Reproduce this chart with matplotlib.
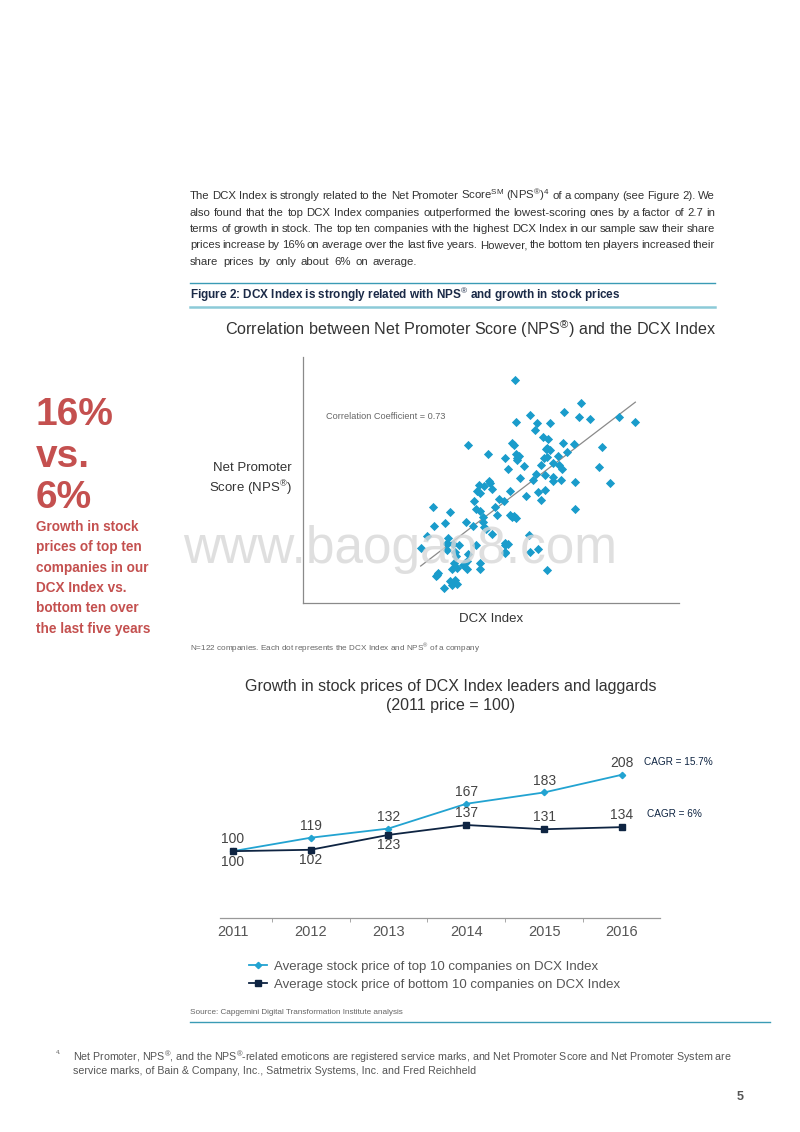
import numpy as np
import matplotlib
matplotlib.use("Agg")
import matplotlib.pyplot as plt
from matplotlib.lines import Line2D

plt.rcParams['font.family'] = ['Liberation Sans', 'DejaVu Sans']
plt.rcParams['mathtext.fontset'] = 'custom'
plt.rcParams['mathtext.rm'] = 'Liberation Sans'
plt.rcParams['mathtext.it'] = 'Liberation Sans:italic'
plt.rcParams['mathtext.bf'] = 'Liberation Sans:bold'

# --- scatter: DCX Index vs NPS (arbitrary units) ---
dcx = [64.5, 84.2, 79.2, 68.9, 83.8, 87.0, 95.6, 100.6, 64.8, 71.2,
       74.9, 70.6, 72.9, 74.4, 63.6, 64.1, 78.8, 82.1, 50.3, 90.5,
       73.8, 74.9, 56.4, 80.1, 64.9, 65.8, 61.6, 65.1, 74.0, 73.3,
       77.4, 76.0, 72.4, 67.3, 77.7, 78.6, 89.8, 62.3, 70.8, 73.4,
       76.0, 65.9, 69.8, 75.8, 78.2, 82.5, 93.0, 56.8, 57.1, 53.7,
       55.3, 57.7, 53.2, 54.0, 63.0, 71.5, 73.4, 67.8, 72.4, 59.7,
       61.2, 52.3, 58.6, 52.7, 54.1, 39.9, 45.0, 82.5, 54.9, 59.0,
       63.0, 64.1, 64.8, 49.7, 43.5, 40.1, 51.9, 55.8, 54.8, 38.2,
       57.6, 68.8, 44.5, 44.0, 46.0, 47.7, 52.9, 61.4, 62.5, 36.2,
       44.1, 46.6, 61.5, 61.4, 69.0, 71.3, 50.5, 46.7, 50.0, 48.9,
       54.1, 45.5, 47.2, 50.2, 54.1, 74.1, 41.5, 40.7, 41.1, 44.9,
       46.6, 47.2, 45.5, 43.2, 49.5, 46.2, 44.1, 63.7, 55.1, 74.0,
       65.2, 61.6]
nps = [67.0, 60.2, 57.6, 56.6, 56.0, 55.2, 56.0, 54.5, 54.4, 54.2,
       54.0, 52.0, 49.8, 49.2, 48.2, 47.4, 48.2, 47.7, 47.4, 47.0,
       46.4, 46.0, 44.8, 45.5, 44.7, 44.2, 43.7, 43.5, 43.8, 43.5,
       44.3, 42.0, 41.6, 41.3, 41.4, 40.3, 40.9, 40.3, 38.7, 38.5,
       38.0, 37.5, 37.0, 36.8, 36.9, 36.3, 36.2, 36.8, 36.0, 35.5,
       35.1, 34.2, 33.7, 33.0, 33.6, 33.3, 34.0, 32.3, 31.0, 31.2,
       30.7, 30.7, 28.8, 28.3, 27.8, 29.0, 27.5, 28.3, 26.0, 26.6,
       26.5, 26.2, 25.7, 24.3, 24.0, 23.3, 23.1, 22.2, 24.4, 20.3,
       20.7, 20.6, 19.5, 17.8, 17.7, 17.3, 17.3, 17.3, 17.8, 16.4,
       15.8, 15.2, 15.4, 14.9, 15.4, 16.1, 14.8, 14.0, 12.5, 11.5,
       12.0, 10.3, 10.5, 10.2, 10.3, 9.8, 9.0, 8.0, 8.4, 6.5,
       6.8, 5.6, 5.3, 4.6, 12.0, 12.0, 18.0, 26.0, 23.0, 46.5,
       43.0, 18.0]

# --- line chart: stock price growth (2011 = 100) ---
years = ['2011', '2012', '2013', '2014', '2015', '2016']
top10 = [100, 119, 132, 167, 183, 208]
bottom10 = [100, 102, 123, 137, 131, 134]
bottom_label_below = [True, True, True, False, False, False]
cagr_top = 'CAGR = 15.7%'
cagr_bottom = 'CAGR = 6%'

BLUE = '#1A9CCB'
NAVY = '#0E2442'
RED = '#C4504F'
TEAL = '#3A9BB5'

W, H = 800, 1132
fig = plt.figure(figsize=(W / 100, H / 100), dpi=100)
renderer = fig.canvas.get_renderer()


def fx(x):
    return x / W


def fy(y):
    return 1 - y / H


def justified(y, line, x0=190, x1=715, last=False, **kw):
    # spread the words of one line so it fills x0..x1 (plain spacing on the last line)
    words = line.split(' ')
    objs = [fig.text(fx(x0), fy(y), w, va='baseline', **kw) for w in words]
    widths = [o.get_window_extent(renderer).width for o in objs]
    space = objs[0].get_fontsize() * 0.42 * 100 / 72
    gap = space if last else (x1 - x0 - sum(widths)) / (len(words) - 1)
    x = x0
    for o, w in zip(objs, widths):
        o.set_x(fx(x))
        x += w + gap


# intro paragraph
para = [
    r'The DCX Index is strongly related to the Net Promoter Score$^{\mathrm{SM}}$ (NPS$^{\circledR}$)$^{4}$ of a company (see Figure 2). We',
    'also found that the top DCX Index companies outperformed the lowest-scoring ones by a factor of 2.7 in',
    'terms of growth in stock. The top ten companies with the highest DCX Index in our sample saw their share',
    'prices increase by 16% on average over the last five years. However, the bottom ten players increased their',
    'share prices by only about 6% on average.',
]
for i, line in enumerate(para):
    justified(199 + i * 16.5, line, last=(i == len(para) - 1), fontsize=8.2, color='#333333')

fig.add_artist(Line2D([fx(190), fx(715)], [fy(282.5), fy(282.5)], color=TEAL, lw=1.0))
fig.text(fx(190), fy(295), r'Figure 2: DCX Index is strongly related with NPS$^{\circledR}$ and growth in stock prices',
         fontsize=8.5, fontweight='bold', color='#1B2A47', va='center')
fig.add_artist(Line2D([fx(190), fx(715)], [fy(307.5), fy(307.5)], color='#8CCAD8', lw=1.8))

# left call-out
fig.text(fx(36), fy(415), '16%', fontsize=28, fontweight='bold', color=RED, va='center')
fig.text(fx(36), fy(457), 'vs.', fontsize=28, fontweight='bold', color=RED, va='center')
fig.text(fx(36), fy(498), '6%', fontsize=28, fontweight='bold', color=RED, va='center')
callout = ['Growth in stock', 'prices of top ten', 'companies in our',
           'DCX Index vs.', 'bottom ten over', 'the last five years']
for i, s in enumerate(callout):
    fig.text(fx(36), fy(527 + i * 20.3), s, fontsize=9.8, fontweight='bold', color=RED, va='center')

# watermark
fig.text(fx(400), fy(550), 'www.baogao8.com', fontsize=37, color='#d8d8d8', ha='center', va='center',
         alpha=0.8, zorder=10)

# scatter chart
fig.text(fx(471), fy(329), r'Correlation between Net Promoter Score (NPS$^{\circledR}$) and the DCX Index',
         fontsize=11.6, color='#333333', ha='center', va='center')
ax1 = fig.add_axes([fx(303), fy(603), (679 - 303) / W, (603 - 357) / H])
ax1.scatter(dcx, nps, marker='D', s=22, color=BLUE, linewidths=0, zorder=3)
k, b = np.polyfit(dcx, nps, 1)
xs = np.array([min(dcx), max(dcx)])
ax1.plot(xs, k * xs + b, color='#8a8a8a', lw=0.9, zorder=2)
ax1.set_xlim(0.9, 113.7)
ax1.set_ylim(0, 74)
ax1.set_xticks([])
ax1.set_yticks([])
for side in ['top', 'right']:
    ax1.spines[side].set_visible(False)
for side in ['left', 'bottom']:
    ax1.spines[side].set_color('#8a8a8a')
    ax1.spines[side].set_linewidth(0.9)
ax1.text(0.06, 0.76, 'Correlation Coefficient = 0.73', transform=ax1.transAxes, fontsize=6.6,
         color='#666666', va='center')
fig.text(fx(292), fy(480), 'Net Promoter\n' + r'Score (NPS$^{\circledR}$)', fontsize=9.5, color='#333333',
         ha='right', va='center', multialignment='right', linespacing=1.3)
fig.text(fx(491), fy(619), 'DCX Index', fontsize=9.5, color='#333333', ha='center', va='center')
fig.text(fx(190), fy(648), r'N=122 companies. Each dot represents the DCX Index and NPS$^{\circledR}$ of a company',
         fontsize=5.9, color='#666666', va='center')

# line chart
fig.text(fx(451), fy(696), 'Growth in stock prices of DCX Index leaders and laggards\n(2011 price = 100)',
         fontsize=11.5, color='#333333', ha='center', va='center', linespacing=1.3)
ax2 = fig.add_axes([fx(220), fy(917.7), 440 / W, 167.7 / H])
xpos = np.arange(len(years))
ax2.plot(xpos, top10, color='#22A3D1', lw=1.3, marker='D', ms=3.2, zorder=3)
ax2.plot(xpos, bottom10, color=NAVY, lw=1.3, marker='s', ms=5, zorder=3)
for x, v in zip(xpos, top10):
    ax2.annotate(str(v), (x, v), xytext=(0, 8.6), textcoords='offset points', ha='center', va='center',
                 fontsize=10, color='#444444')
for x, v, below in zip(xpos, bottom10, bottom_label_below):
    ax2.annotate(str(v), (x, v), xytext=(0, -7.5 if below else 8.8), textcoords='offset points',
                 ha='center', va='center', fontsize=10, color='#444444')
ax2.annotate(cagr_top, (xpos[-1], top10[-1]), xytext=(16, 9.4), textcoords='offset points',
             ha='left', va='center', fontsize=7.2, color=NAVY)
ax2.annotate(cagr_bottom, (xpos[-1], bottom10[-1]), xytext=(18, 9.4), textcoords='offset points',
             ha='left', va='center', fontsize=7.2, color=NAVY)
ax2.set_xlim(-0.165, 5.49)
ax2.set_ylim(6, 243)
ax2.set_xticks(xpos)
ax2.set_xticklabels(years, fontsize=10.5, color='#555555')
ax2.set_xticks(xpos[:-1] + 0.5, minor=True)
ax2.tick_params(axis='x', which='major', length=0, pad=5.5)
ax2.tick_params(axis='x', which='minor', length=3, color='#999999', direction='out')
ax2.set_yticks([])
for side in ['top', 'right', 'left']:
    ax2.spines[side].set_visible(False)
ax2.spines['bottom'].set_color('#999999')
ax2.spines['bottom'].set_linewidth(0.9)

handles = [Line2D([], [], color='#22A3D1', lw=1.3, marker='D', ms=3.2),
           Line2D([], [], color=NAVY, lw=1.3, marker='s', ms=5)]
fig.legend(handles, ['Average stock price of top 10 companies on DCX Index',
                     'Average stock price of bottom 10 companies on DCX Index'],
           loc='upper left', bbox_to_anchor=(fx(237), fy(949)), frameon=False, fontsize=9.5,
           handlelength=1.4, handletextpad=0.5, labelspacing=0.4, labelcolor='#555555')

fig.text(fx(190), fy(1013), 'Source: Capgemini Digital Transformation Institute analysis',
         fontsize=5.9, color='#666666', va='center')
fig.add_artist(Line2D([fx(190), fx(770)], [fy(1022), fy(1022)], color=TEAL, lw=1.0))

# footnote and page number
fig.text(fx(56), fy(1053), '4.', fontsize=4.5, color='#666666', va='center')
fig.text(fx(73), fy(1057),
         r'Net Promoter, NPS$^{\circledR}$, and the NPS$^{\circledR}$-related emoticons are registered service marks, '
         'and Net Promoter Score and Net Promoter System are', fontsize=7.7, color='#555555', va='center')
fig.text(fx(73), fy(1071), 'service marks, of Bain & Company, Inc., Satmetrix Systems, Inc. and Fred Reichheld',
         fontsize=7.7, color='#555555', va='center')
fig.text(fx(740), fy(1097), '5', fontsize=9, fontweight='bold', color='#555555', ha='center', va='center')

fig.savefig('out.png', dpi=100, facecolor='white')
